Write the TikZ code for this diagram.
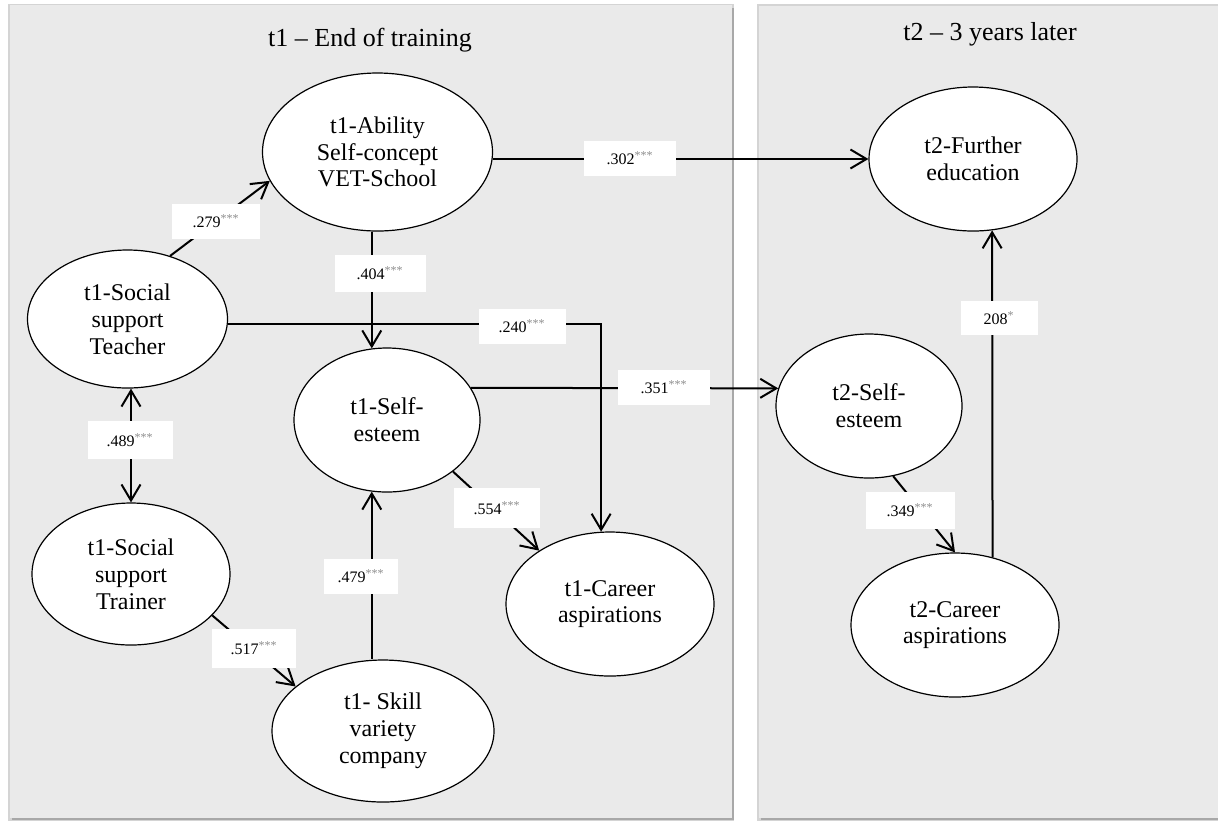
\documentclass[tikz,border=0pt]{standalone}
\usepackage{fontspec}
\setmainfont{Liberation Serif}
\usetikzlibrary{arrows.meta,shapes.geometric}
\definecolor{panelgray}{HTML}{EAEAEA}
\definecolor{shadowgray}{HTML}{A8A8A8}
\definecolor{softshadow}{HTML}{D4D4D4}
\definecolor{stargray}{HTML}{8C8C8C}
\newcommand{\sigstars}[1]{\textsuperscript{\textcolor{stargray}{#1}}}
\tikzset{
  latent/.style={ellipse, draw, line width=0.6pt, fill=white, inner sep=0pt, align=center,
    font=\fontsize{12}{13.4}\selectfont},
  conn/.style={line width=1pt, -{Straight Barb[length=8pt,width=9.5pt]}},
  biconn/.style={line width=1pt, {Straight Barb[length=8pt,width=9.5pt]}-{Straight Barb[length=8pt,width=9.5pt]}},
  plainconn/.style={line width=1pt},
  lbl/.style={fill=white, inner sep=0pt, minimum width=44pt, minimum height=17.5pt,
    font=\fontsize{8}{9}\selectfont},
  ttl/.style={font=\fontsize{13}{15}\selectfont, anchor=base, inner sep=0pt},
}
\begin{document}
\begin{tikzpicture}[x=0.5pt,y=-0.5pt]
\useasboundingbox (0,0) rectangle (1218,821);
\fill[white] (0,0) rectangle (1218,821);
% panels
\fill[softshadow] (8,4) rectangle (734,821);
\fill[shadowgray] (12,8) rectangle (734,820);
\fill[panelgray] (10,5) rectangle (732,818);
\fill[softshadow] (757,4) rectangle (1218,821);
\fill[shadowgray] (761,8) rectangle (1218,820);
\fill[panelgray] (759,6) rectangle (1218,818);
\node[ttl] (t1title) at (370,46) {t1 -- End of training};
\node[ttl] (t2title) at (990,40) {t2 -- 3 years later};
% latent variables
\node[latent, minimum width=115pt, minimum height=79pt] (abil) at (377.5,152) {t1-Ability\\Self-concept\\VET-School};
\node[latent, minimum width=104pt, minimum height=72pt] (fed) at (973,159) {t2-Further\\education};
\node[latent, minimum width=100pt, minimum height=69pt] (teach) at (127.5,319) {t1-Social\\support\\Teacher};
\node[latent, minimum width=99pt, minimum height=71pt] (train) at (131,574) {t1-Social\\support\\Trainer};
\node[latent, minimum width=93pt, minimum height=72pt] (se1) at (387,420) {t1-Self-\\esteem};
\node[latent, minimum width=104pt, minimum height=72pt] (car1) at (610,604) {t1-Career\\aspirations};
\node[latent, minimum width=111pt, minimum height=71pt] (skill) at (383,731) {t1- Skill\\variety\\company};
\node[latent, minimum width=93pt, minimum height=72pt] (se2) at (869,406) {t2-Self-\\esteem};
\node[latent, minimum width=104pt, minimum height=72pt] (car2) at (955,625) {t2-Career\\aspirations};
% connectors
\draw[conn] (teach.56) -- (abil.195);
\draw[conn] (se1.102 |- abil.south) -- (se1.102);
\draw[conn] (abil.east |- fed.west) -- (fed.west);
\draw[conn] (teach.-3) -| (car1.97);
\draw[conn] (se1.21) -- (se2.169);
\draw[conn] (se1.-38.4) -- (car1.143);
\draw[biconn] (teach.south -| train.north) -- (train.north);
\draw[conn] (train.-27) -- (skill.153);
\draw[conn] (skill.north -| se1.-102) -- (se1.-102);
\draw[conn] (se2.-71) -- (car2.north);
\draw[conn] (car2.61) -- (fed.-75);
% labels
\node[lbl] (l279) at (216,221) {.279\sigstars{***}};
\node[lbl, minimum width=45.5pt, minimum height=18.5pt] (l404) at (380,273) {.404\sigstars{***}};
\node[lbl, minimum width=46pt] (l302) at (630,158) {.302\sigstars{***}};
\node[lbl, minimum width=43.5pt] (l240) at (522,326) {.240\sigstars{***}};
\node[lbl, minimum width=46pt] (l351) at (664,387) {.351\sigstars{***}};
\node[lbl, minimum width=42.5pt, minimum height=19pt] (l489) at (130,440) {.489\sigstars{***}};
\node[lbl, minimum width=43pt, minimum height=20pt] (l554) at (497,508) {.554\sigstars{***}};
\node[lbl, minimum width=37pt] (l479) at (361,576) {.479\sigstars{***}};
\node[lbl, minimum width=42pt, minimum height=19.5pt] (l517) at (254,648) {.517\sigstars{***}};
\node[lbl, minimum width=38.5pt, minimum height=17pt] (l208) at (999,318) {208\sigstars{*}};
\node[lbl, minimum width=44.5pt, minimum height=18.5pt] (l349) at (910,510) {.349\sigstars{***}};
\end{tikzpicture}
\end{document}
